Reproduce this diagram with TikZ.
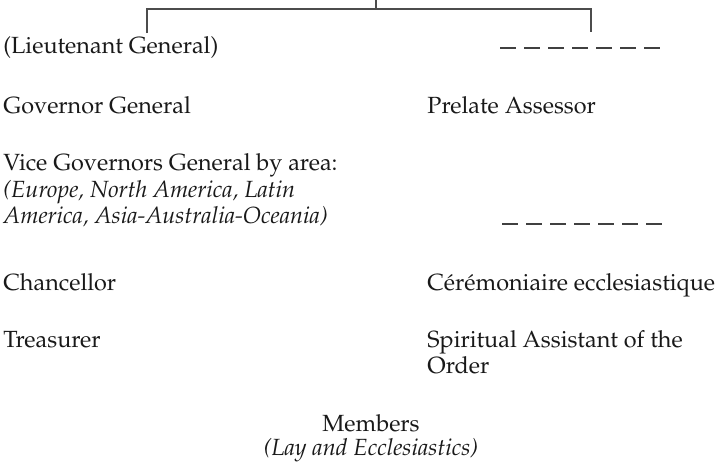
\documentclass[tikz,border=0pt]{standalone}
\usepackage[T1]{fontenc}
\renewcommand{\rmdefault}{ppl}
\usetikzlibrary{positioning}
\tikzset{
  post/.style={anchor=base west, inner sep=0pt, text=black!90},
  tie/.style={draw=black!70, line width=1pt},
  vacant/.style={draw=black!75, line width=1pt, dash pattern=on 8pt off 4pt}
}

\begin{document}
\begin{tikzpicture}[x=0.5pt, y=-0.5pt, font=\fontsize{11.7}{13}\selectfont]
  \useasboundingbox (0, 0) rectangle (723, 471);

  % bracket from the head of the order
  \coordinate (head) at (376, 0);
  \coordinate (hub) at (376, 9);
  \coordinate (lt) at (147, 33);
  \coordinate (rt) at (591, 32);
  \draw[tie] (head) -- (hub);
  \draw[tie] (lt) -- (lt |- hub) -- (rt |- hub) -- (rt);

  % left column
  \node[post] (lieut) at (3, 54) {(Lieutenant General)};
  \node[post] (gov) at (3, 113) {Governor General};
  \node[post] (vice) at (3, 170) {Vice Governors General by area:};
  \node[post] (area1) at (3, 197) {\itshape (Europe, North America, Latin};
  \node[post] (area2) at (3, 223) {\itshape America, Asia-Australia-Oceania)};
  \node[post] (chanc) at (3, 290) {Chancellor};
  \node[post] (treas) at (3, 347) {Treasurer};

  % right column
  \coordinate (gap1a) at (500, 48);
  \coordinate (gap1b) at (660, 48);
  \draw[vacant] (gap1a) -- (gap1b);
  \node[post] (prelate) at (427, 113) {Prelate Assessor};
  \coordinate (gap2a) at (502, 224);
  \coordinate (gap2b) at (662, 224);
  \draw[vacant] (gap2a) -- (gap2b);
  \node[post] (ceremo) at (427, 290) {C\'er\'emoniaire ecclesiastique};
  \node[post] (spirit) at (427, 347) {Spiritual Assistant of the};
  \node[post] (order) at (427, 373) {Order};

  % members
  \node[post, anchor=base] (members) at (371, 431) {Members};
  \node[post, anchor=base] (lay) at (371, 455) {\itshape (Lay and Ecclesiastics)};
\end{tikzpicture}
\end{document}
